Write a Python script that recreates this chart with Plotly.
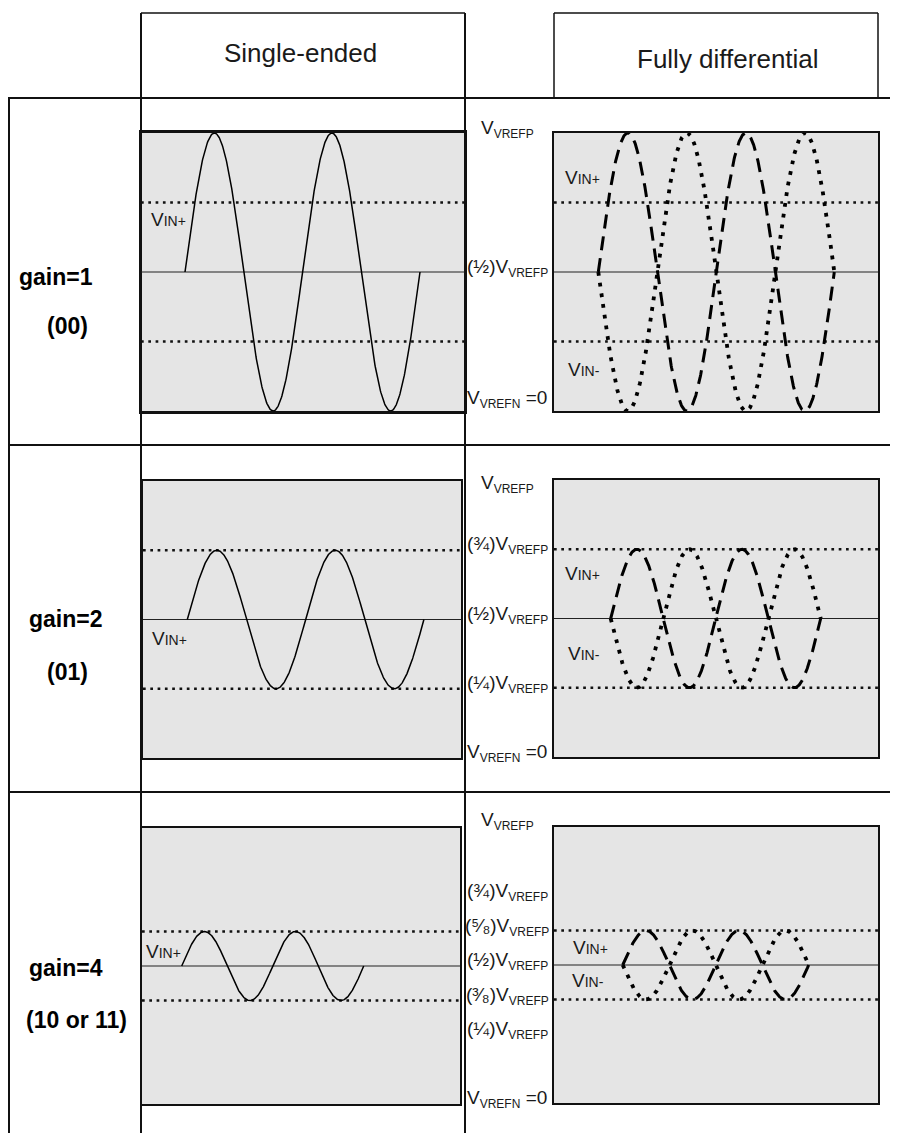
import numpy as np
import plotly.graph_objects as go

# ---------------- data ----------------
gains = [1, 2, 4]
gain_codes = ["(00)", "(01)", "(10 or 11)"]
column_titles = ["Single-ended", "Fully differential"]
n_cycles = 2
common_mode = 0.5                      # fraction of V_VREFP
amplitude = [0.5, 0.25, 0.125]         # fraction of V_VREFP
dotted_levels = [[0.75, 0.25], [0.75, 0.25], [0.625, 0.375]]
SUBP = '<sub><span style="font-size:12px">VREFP</span></sub>'
SUBN = '<sub><span style="font-size:12px">VREFN</span></sub>'
level_labels = [
    [(1.0, "V" + SUBP), (0.5, "(½)V" + SUBP), (0.0, "V" + SUBN + " =0")],
    [(1.0, "V" + SUBP), (0.75, "(¾)V" + SUBP), (0.5, "(½)V" + SUBP),
     (0.25, "(¼)V" + SUBP), (0.0, "V" + SUBN + " =0")],
    [(1.0, "V" + SUBP), (0.75, "(¾)V" + SUBP), (0.625, "(⁵⁄₈)V" + SUBP),
     (0.5, "(½)V" + SUBP), (0.375, "(³⁄₈)V" + SUBP), (0.25, "(¼)V" + SUBP),
     (0.0, "V" + SUBN + " =0")],
]

# ---------------- layout (pixel geometry) ----------------
W, H = 898, 1133
OFF = 8                      # page body margin
FW, FH = W - OFF, H - OFF
FONT = "Liberation Sans, Arial, sans-serif"
INK = "#1a1a1a"


def X(px):
    return (px - OFF) / FW


def Y(py):
    return 1 - (py - OFF) / FH


# (x0, x1, y_top, y_bottom, wave start px, period px)
panel_geom = {
    (0, 0): (141, 465, 133, 411, 185.0, 117.5),
    (0, 1): (554, 878, 133, 411, 598.3, 118.0),
    (1, 0): (143, 461, 481, 758, 187.3, 118.3),
    (1, 1): (554, 878, 480, 757, 610.7, 105.0),
    (2, 0): (142, 460, 828, 1104, 181.7, 91.0),
    (2, 1): (554, 878, 827, 1103, 622.7, 93.0),
}

fig = go.Figure()
layout = dict(
    width=FW, height=FH, margin=dict(l=0, r=0, t=0, b=0),
    paper_bgcolor="white", plot_bgcolor="#e5e5e5", showlegend=False,
    font=dict(family=FONT, color=INK),
)
annotations = []
shapes = []

t = np.linspace(0, n_cycles, 600)
k = 0
for r in range(3):
    for c in range(2):
        k += 1
        x0, x1, yt, yb, start, period = panel_geom[(r, c)]
        xa = "xaxis" if k == 1 else f"xaxis{k}"
        ya = "yaxis" if k == 1 else f"yaxis{k}"
        xr = "x" if k == 1 else f"x{k}"
        yr = "y" if k == 1 else f"y{k}"
        thick_tb = 3 if (r, c) == (0, 0) else 2
        layout[xa] = dict(domain=[X(x0), X(x1)], anchor=yr,
                          range=[(x0 - start) / period, (x1 - start) / period],
                          showgrid=False, zeroline=False, showticklabels=False, ticks="",
                          showline=True, mirror=True, linecolor="#111", linewidth=thick_tb,
                          fixedrange=True)
        layout[ya] = dict(domain=[Y(yb), Y(yt)], anchor=xr, range=[0, 1],
                          showgrid=False, zeroline=False, showticklabels=False, ticks="",
                          showline=True, mirror=True, linecolor="#111", linewidth=2,
                          fixedrange=True)
        xr_lo, xr_hi = layout[xa]["range"]
        # reference lines
        for lv in dotted_levels[r]:
            fig.add_trace(go.Scatter(x=[xr_lo, xr_hi], y=[lv, lv], mode="lines", xaxis=xr, yaxis=yr,
                                     line=dict(color="#111", width=2.7, dash="2.7px,4.6px"),
                                     hoverinfo="skip"))
        fig.add_trace(go.Scatter(x=[xr_lo, xr_hi], y=[common_mode] * 2, mode="lines", xaxis=xr, yaxis=yr,
                                 line=dict(color="#222", width=1.1), hoverinfo="skip"))
        A = amplitude[r]
        s = np.sin(2 * np.pi * t)
        if c == 0:
            fig.add_trace(go.Scatter(x=t, y=common_mode + A * s, mode="lines", xaxis=xr, yaxis=yr,
                                     line=dict(color="#000", width=1.5), cliponaxis=False,
                                     hoverinfo="skip"))
        else:
            fig.add_trace(go.Scatter(x=t, y=common_mode - A * s, mode="lines", xaxis=xr, yaxis=yr,
                                     line=dict(color="#000", width=3.8, dash="3.8px,7px"),
                                     cliponaxis=False, hoverinfo="skip"))
            fig.add_trace(go.Scatter(x=t, y=common_mode + A * s, mode="lines", xaxis=xr, yaxis=yr,
                                     line=dict(color="#000", width=3, dash="14px,8px"),
                                     cliponaxis=False, hoverinfo="skip"))
        # level labels in the middle column, anchored to the differential panel's y scale
        if c == 1:
            for j, (lv, txt) in enumerate(level_labels[r]):
                yshift = 4
                if lv == 1.0:
                    yshift = {0: 4, 1: -4, 2: 6}[r]
                if lv == 0.0:
                    yshift = {0: 12, 1: 4, 2: 4}[r]
                annotations.append(dict(x=X(507), xref="paper", y=lv, yref=yr, text=txt,
                                        showarrow=False, xanchor="center", yanchor="middle",
                                        yshift=yshift, font=dict(size=19, color=INK)))

# V_IN labels
vin = '<span style="font-size:19px">V</span><span style="font-size:14px">IN{}</span>'
vin_labels = [
    (168, 220, "+"), (582, 177, "+"), (584, 370, "-"),
    (169, 638, "+"), (582, 573, "+"), (584, 653, "-"),
    (163, 951, "+"), (590, 947, "+"), (588, 980, "-"),
]
for px, py, sgn in vin_labels:
    annotations.append(dict(x=X(px), y=Y(py), xref="paper", yref="paper", text=vin.format(sgn),
                            showarrow=False, xanchor="center", yanchor="middle",
                            font=dict(size=17, color=INK)))

# column headers
for txt, cx, cy in zip(column_titles, [300, 728], [53, 59]):
    annotations.append(dict(x=X(cx), y=Y(cy), xref="paper", yref="paper", text=txt, showarrow=False,
                            xanchor="center", yanchor="middle", font=dict(size=26, color=INK)))

# row headers
row_label_pos = [((56, 277), (67, 326)), ((66, 619), (67, 672)), ((66, 968), (76, 1020))]
for g, code, ((gx, gy), (cx, cy)) in zip(gains, gain_codes, row_label_pos):
    annotations.append(dict(x=X(gx), y=Y(gy), xref="paper", yref="paper", text=f"gain={g}",
                            showarrow=False, xanchor="center", yanchor="middle",
                            font=dict(size=23, color="#000", weight="bold")))
    annotations.append(dict(x=X(cx), y=Y(cy), xref="paper", yref="paper", text=code,
                            showarrow=False, xanchor="center", yanchor="middle",
                            font=dict(size=23, color="#000", weight="bold")))


# table grid
def line(x0, y0, x1, y1, w=2):
    shapes.append(dict(type="line", xref="paper", yref="paper", x0=X(x0), y0=Y(y0), x1=X(x1), y1=Y(y1),
                       line=dict(color="#111", width=w), layer="below"))


for hx0, hx1 in [(141, 465), (554, 878)]:
    line(hx0, 13, hx1, 13, 1.5)
    line(hx0, 13, hx0, 98, 1.5)
    line(hx1, 13, hx1, 98, 1.5)
for hy in [98, 445, 792]:
    line(OFF, hy, W, hy, 2)
line(OFF + 1, 98, OFF + 1, H, 2)
line(141, 13, 141, H, 2)
line(465, 13, 465, H, 2)

layout["annotations"] = annotations
layout["shapes"] = shapes
fig.update_layout(**layout)
fig.write_html("out.html", config={"displayModeBar": False})
